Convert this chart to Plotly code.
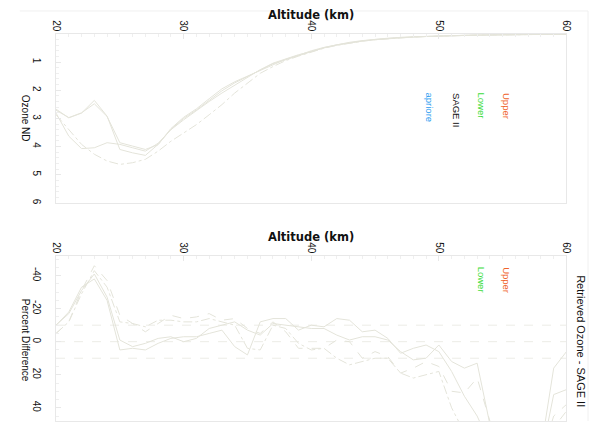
import plotly.graph_objects as go

W, H = 597, 423

# Altitude grid (km)
altitude = list(range(20, 61))

# Ozone number density profiles
upper = [2.67, 2.98, 2.81, 2.36, 2.92, 4.10, 4.22, 4.31, 3.92, 3.39, 3.00, 2.70, 2.36, 2.02,
         1.74, 1.52, 1.28, 1.06, 0.92, 0.77, 0.62, 0.49, 0.39, 0.31, 0.25, 0.20, 0.16, 0.13,
         0.11, 0.09, 0.075, 0.063, 0.053, 0.045, 0.038, 0.032, 0.027, 0.022, 0.018, 0.015, 0.012]
lower = [2.71, 2.97, 2.80, 2.48, 2.93, 3.86, 3.98, 4.10, 3.93, 3.36, 2.96, 2.66, 2.30, 1.95,
         1.70, 1.50, 1.30, 1.08, 0.90, 0.76, 0.60, 0.48, 0.38, 0.30, 0.24, 0.19, 0.155, 0.125,
         0.105, 0.088, 0.073, 0.061, 0.051, 0.043, 0.036, 0.030, 0.025, 0.021, 0.017, 0.014, 0.011]
sage2 = [2.81, 3.63, 4.07, 4.04, 3.86, 3.92, 4.04, 4.16, 3.88, 3.40, 3.05, 2.72, 2.40, 2.10,
         1.82, 1.55, 1.27, 1.04, 0.88, 0.74, 0.63, 0.50, 0.40, 0.32, 0.26, 0.21, 0.17, 0.135,
         0.11, 0.09, 0.076, 0.064, 0.054, 0.046, 0.039, 0.033, 0.028, 0.023, 0.019, 0.016, 0.013]
apriore = [2.87, 3.39, 3.92, 4.27, 4.51, 4.63, 4.57, 4.45, 4.16, 3.81, 3.50, 3.22, 2.87, 2.51,
           2.10, 1.75, 1.40, 1.16, 0.95, 0.79, 0.64, 0.51, 0.41, 0.33, 0.26, 0.21, 0.17, 0.14,
           0.115, 0.095, 0.078, 0.065, 0.055, 0.047, 0.040, 0.034, 0.029, 0.024, 0.020, 0.016, 0.013]

# Percent differences of the retrievals
diff_upper = [-10, -17, -31, -41, -27, -1, 3, 1, -2, -3, 0, -2, -8, -10, -12, -7, -4, -11, -10,
              -9, -8, -8, -4, -1, -3, -3, -1, 6, 11, 10, 2, 12, 16, 13, 50, 75, 85, 80, 65, 16, 6]
diff_lower = [-10, -18, -33, -38, -25, 5, 4, 5, 1, -2, -3, -3, -5, -7, 3, 8, -12, -14, -14,
              -7, -10, -9, -14, -13, -6, -7, -2, 7, 4, 2, 6, 18, 33, 45, 62, 80, 90, 85, 70, 32, 29]
diff_upper_ap = [-5, -12, -31, -46, -37, -16, -11, -6, -11, -16, -14, -15, -17, -13, -14, -8, -5,
                 -12, -6, 4, 4, 4, -1, 0, 10, 6, 9, 19, 16, 12, 15, 30, 31, 22, 48, 70, 85, 80,
                 70, 45, 38]
diff_lower_ap = [-5, -12, -29, -43, -33, -12, -11, -9, -13, -13, -12, -12, -14, -12, -10, 4, 5,
                 -10, -8, 1, 5, 4, 10, 14, 12, 10, 10, 19, 22, 20, 18, 40, 55, 65, 75, 85, 90,
                 85, 75, 52, 42]

x_ticks = [20, 30, 40, 50, 60]
oz_ticks = [1, 2, 3, 4, 5, 6]
pct_ticks = [-40, -20, 0, 20, 40]
pct_labels = ["-40", "-20", "0", "20", "40"]
ref_levels = [-10, 0, 10]

line_col = "#e4e4da"
axis_col = "#e8e8e8"
sans = "Liberation Sans, Arial"


def px(x):
    return x / W


def py(y):
    return 1 - y / H


fig = go.Figure()

for name, vals, dash in [("Upper", upper, "solid"), ("Lower", lower, "solid"),
                         ("SAGE II", sage2, "solid"), ("apriore", apriore, "dashdot")]:
    fig.add_trace(go.Scatter(x=altitude, y=vals, mode="lines", name=name,
                             line=dict(color=line_col, width=1, dash=dash),
                             xaxis="x", yaxis="y"))

for name, vals, dash in [("Upper", diff_upper, "solid"), ("Lower", diff_lower, "solid"),
                         ("Upper apriore", diff_upper_ap, "dash"),
                         ("Lower apriore", diff_lower_ap, "dashdot")]:
    fig.add_trace(go.Scatter(x=altitude, y=vals, mode="lines", name=name,
                             line=dict(color=line_col, width=1, dash=dash),
                             xaxis="x2", yaxis="y2"))

x_dom = [px(52), px(572)]
common_x = dict(range=[20, 60], side="top", tickvals=x_ticks, tickangle=90,
                ticks="inside", ticklen=5, tickcolor=axis_col,
                minor=dict(ticks="inside", dtick=1, ticklen=3, tickcolor="#efefef"),
                showline=True, linecolor=axis_col, mirror=True, showgrid=False,
                zeroline=False, tickfont=dict(family=sans, size=10, color="#111"),
                ticklabelstandoff=-2, domain=x_dom)
common_y = dict(ticks="inside", ticklen=5, tickcolor=axis_col, tickangle=90,
                showline=True, linecolor=axis_col, mirror=True, showgrid=False,
                zeroline=False, tickfont=dict(family=sans, size=10, color="#111"),
                ticklabelstandoff=10)

fig.update_layout(
    width=W, height=H, margin=dict(l=0, r=0, t=0, b=0),
    paper_bgcolor="white", plot_bgcolor="white", showlegend=False,
    xaxis=dict(anchor="y", **common_x),
    yaxis=dict(anchor="x", domain=[py(204), py(34)], range=[6, 0], tickvals=oz_ticks,
               minor=dict(ticks="inside", dtick=0.2, ticklen=3, tickcolor="#efefef"),
               **common_y),
    xaxis2=dict(anchor="y2", **common_x),
    yaxis2=dict(anchor="x2", domain=[0, py(257)], range=[48, -52], tickvals=pct_ticks,
                ticktext=pct_labels,
                minor=dict(ticks="inside", dtick=5, ticklen=3, tickcolor="#efefef"),
                **common_y),
)

# Dashed reference levels in the difference panel
for lvl in ref_levels:
    fig.add_shape(type="line", xref="x2", yref="y2", x0=20, x1=60, y0=lvl, y1=lvl,
                  line=dict(color="#ececE6", width=1, dash="dash"), layer="below")

# Outer frame
fig.add_shape(type="line", xref="paper", yref="paper", x0=px(15), x1=px(594),
              y0=py(11), y1=py(11), line=dict(color="#f0f0f0", width=1))
fig.add_shape(type="line", xref="paper", yref="paper", x0=px(594), x1=px(594),
              y0=0, y1=py(11), line=dict(color="#f0f0f0", width=1))


def label(text, x, y, size, color="#111", angle=90, yanchor="middle", bold=False,
          family=sans):
    return dict(text=f"<b>{text}</b>" if bold else text, x=px(x), y=py(y),
                xref="paper", yref="paper", xanchor="center", yanchor=yanchor,
                textangle=angle, showarrow=False,
                font=dict(family=family, size=size, color=color))


ann = []
for yc in [15, 238.5]:
    ann.append(label("Altitude (km)", 312, yc, 11.5, angle=0, bold=True, family="DejaVu Sans"))
ann.append(label("Ozone ND", 21, 119, 10))
ann.append(label("Percent Difference", 21, 342, 10))
ann.append(label("Retrieved Ozone - SAGE II", 586, 343, 11))

labels_top = [("Upper", "#f0622a", 511), ("Lower", "#3cdc3c", 485),
              ("SAGE II", "#111111", 460), ("apriore", "#2a9cf0", 432)]
for txt, col, xc in labels_top:
    ann.append(label(txt, xc, 91, 9.5, color=col, yanchor="top"))
for txt, col, xc in labels_top[:2]:
    ann.append(label(txt, xc, 266, 9.5, color=col, yanchor="top"))

fig.update_layout(annotations=ann)
fig.write_html("out.html")
